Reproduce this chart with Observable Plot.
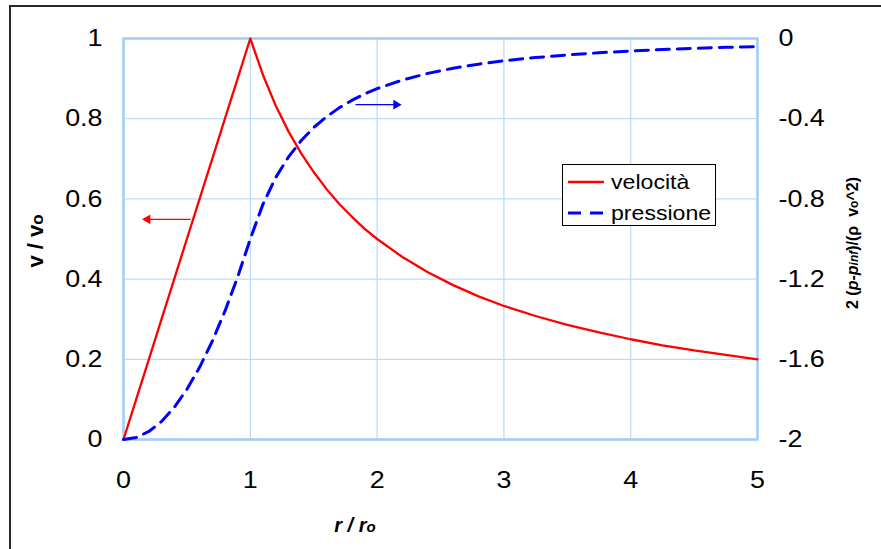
<!DOCTYPE html>
<html>
<head>
<meta charset="utf-8">
<script src="https://cdn.jsdelivr.net/npm/d3@7"></script>
<script src="https://cdn.jsdelivr.net/npm/@observablehq/plot@0.6"></script>
<style>
  html, body { margin: 0; padding: 0; background: #fff; overflow: hidden; }
  body { width: 881px; height: 549px; position: relative; font-family: "Liberation Sans", Arial, sans-serif; }
  #frame { position: absolute; left: 9px; top: 5px; width: 900px; height: 600px; border: 2px solid #2a2a2a; box-sizing: border-box; }
  #chart { position: absolute; left: 0; top: 0; }
  #legend { position: absolute; left: 562px; top: 164px; width: 154px; height: 62px; border: 1px solid #000; background: #fff; box-sizing: border-box; font-size: 21px; color: #000; }
  #legend .row { position: absolute; left: 5px; height: 26px; display: flex; align-items: center; }
  #legend svg { margin-right: 7px; }
  #legend span { display: inline-block; transform: scaleX(1.1); transform-origin: left center; }
</style>
</head>
<body>
<div id="frame"></div>
<div id="chart"></div>
<div id="legend"></div>
<script>
// r / ro sample positions
const r = [0,0.1,0.2,0.3,0.4,0.5,0.6,0.7,0.8,0.9,1,1.1,1.2,1.3,1.4,1.5,1.6,1.7,1.8,1.9,2,2.2,2.4,2.6,2.8,3,3.25,3.5,3.75,4,4.25,4.5,4.75,5];
// v / vo (velocità)
const velocita = [0,0.1,0.2,0.3,0.4,0.5,0.6,0.7,0.8,0.9,1,0.909,0.833,0.769,0.714,0.667,0.625,0.588,0.556,0.526,0.5,0.455,0.417,0.385,0.357,0.333,0.308,0.286,0.267,0.25,0.235,0.222,0.211,0.2];
// 2 (p - pinf)/(rho vo^2) (pressione)
const pressione = [-2,-1.99,-1.96,-1.91,-1.84,-1.75,-1.64,-1.51,-1.36,-1.19,-1,-0.826,-0.694,-0.592,-0.51,-0.444,-0.391,-0.346,-0.309,-0.277,-0.25,-0.207,-0.174,-0.148,-0.128,-0.111,-0.095,-0.082,-0.071,-0.0625,-0.055,-0.049,-0.044,-0.04];
// tick labels
const xTicks = [0,1,2,3,4,5];
const vTicks = [0,0.2,0.4,0.6,0.8,1];
const pTicks = [0,-0.4,-0.8,-1.2,-1.6,-2];
// annotation arrows (data units)
const arrowVel = [{r1: 0.53, r2: 0.19, v: 0.549}];
const arrowPres = [{r1: 1.83, r2: 2.15, p: -0.33}];
const seriesNames = ["velocità", "pressione"];
const seriesColors = ["#ff0000", "#0000ff"];

const pToV = p => (p + 2) / 2;

const velData = r.map((x, i) => ({r: x, v: velocita[i]}));
const presData = r.map((x, i) => ({r: x, v: pToV(pressione[i])}));

const font = "'Liberation Sans', Arial, sans-serif";

const plot = Plot.plot({
  width: 881,
  height: 549,
  marginLeft: 123,
  marginRight: 124,
  marginTop: 38,
  marginBottom: 110,
  style: {fontFamily: font, fontSize: "24px", color: "#000", background: "transparent"},
  x: {domain: [0, 5]},
  y: {domain: [0, 1]},
  marks: [
    Plot.gridX(xTicks, {stroke: "#bcdcfa", strokeOpacity: 1, strokeWidth: 1.3}),
    Plot.gridY(vTicks, {stroke: "#bcdcfa", strokeOpacity: 1, strokeWidth: 1.3}),
    Plot.frame({stroke: "#a3cdf5", strokeWidth: 2.5}),
    Plot.axisX(xTicks, {tickSize: 0, tickPadding: 31, label: null, fontSize: 24, tickFormat: d => String(d)}),
    Plot.axisY(vTicks, {anchor: "left", tickSize: 0, tickPadding: 21, label: null, fontSize: 24, tickFormat: d => String(+d.toFixed(1))}),
    Plot.axisY(pTicks.map(pToV), {anchor: "right", tickSize: 0, tickPadding: 21, label: null, fontSize: 24,
      tickFormat: d => String(Math.round((d * 2 - 2) * 10) / 10)}),
    Plot.line(velData, {x: "r", y: "v", stroke: seriesColors[0], strokeWidth: 2.3}),
    Plot.line(presData, {x: "r", y: "v", stroke: seriesColors[1], strokeWidth: 3, strokeDasharray: "13,8"}),
    Plot.link(arrowVel, {x1: "r1", x2: "r2", y1: "v", y2: "v", stroke: seriesColors[0], strokeWidth: 1.3}),
    Plot.dot(arrowVel, {x: "r2", y: "v", symbol: "triangle", r: 3.6, rotate: -90, fill: seriesColors[0], stroke: "none"}),
    Plot.link(arrowPres, {x1: "r1", x2: "r2", y1: d => pToV(d.p), y2: d => pToV(d.p), stroke: seriesColors[1], strokeWidth: 1.3}),
    Plot.dot(arrowPres, {x: "r2", y: d => pToV(d.p), symbol: "triangle", r: 3.6, rotate: 90, fill: seriesColors[1], stroke: "none"})
  ]
});
document.getElementById("chart").appendChild(plot);

const svg = d3.select(plot);
// horizontally widen tick labels (reference text is slightly stretched)
svg.selectAll("g[aria-label$='tick label'] text").each(function() {
  const t = d3.select(this);
  const tr = t.attr("transform") || "";
  t.attr("transform", tr + " scale(1.12,1)");
});

// axis titles with subscripts
const xl = svg.append("text")
  .attr("x", 355).attr("y", 532)
  .attr("text-anchor", "middle")
  .attr("font-family", font).attr("font-weight", "bold").attr("font-style", "italic").attr("font-size", 20)
  .attr("fill", "#000");
xl.append("tspan").text("r / r");
xl.append("tspan").attr("font-size", 15).text("o");

const yl = svg.append("text")
  .attr("transform", "translate(43,241) rotate(-90)")
  .attr("text-anchor", "middle")
  .attr("font-family", font).attr("font-weight", "bold").attr("font-size", 22)
  .attr("fill", "#000");
yl.append("tspan").text("v / v");
yl.append("tspan").attr("font-size", 17).text("o");

const yr = svg.append("text")
  .attr("transform", "translate(858,243) rotate(-90)")
  .attr("text-anchor", "middle")
  .attr("font-family", font).attr("font-weight", "bold").attr("font-size", 16)
  .attr("fill", "#000");
yr.append("tspan").text("2 (");
yr.append("tspan").attr("font-style", "italic").text("p-p");
yr.append("tspan").attr("font-style", "italic").attr("font-size", 12).text("inf");
yr.append("tspan").text(")/(ρ  v");
yr.append("tspan").attr("font-size", 12).text("o");
yr.append("tspan").text("^2)");

// legend
const legend = document.getElementById("legend");
seriesNames.forEach((name, i) => {
  const row = document.createElement("div");
  row.className = "row";
  row.style.top = (i === 0 ? 4 : 35) + "px";
  row.innerHTML = `<svg width="36" height="6"><line x1="0" y1="3" x2="36" y2="3" stroke="${seriesColors[i]}" stroke-width="${i ? 3 : 2.3}" ${i ? 'stroke-dasharray="13,9"' : ''}/></svg><span>${name}</span>`;
  legend.appendChild(row);
});
</script>
</body>
</html>
